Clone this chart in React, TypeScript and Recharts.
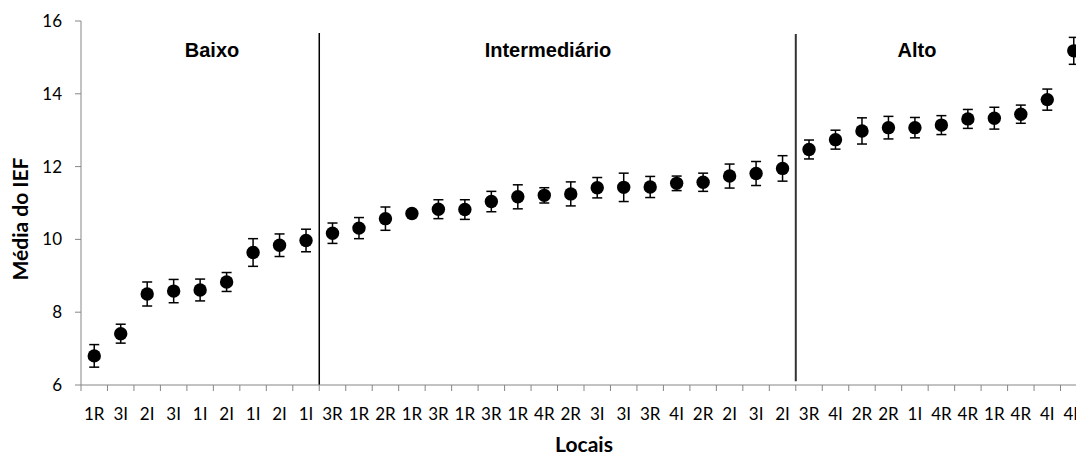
import { ComposedChart, Line, ErrorBar, XAxis, YAxis, ReferenceLine } from 'recharts';

const locais = [
  '1R', '3I', '2I', '3I', '1I', '2I', '1I', '2I', '1I',
  '3R', '1R', '2R', '1R', '3R', '1R', '3R', '1R', '4R', '2R', '3I', '3I', '3R', '4I', '2R', '2I', '3I', '2I',
  '3R', '4I', '2R', '2R', '1I', '4R', '4R', '1R', '4R', '4I', '4R',
];

const medias = [
  6.80, 7.41, 8.50, 8.58, 8.61, 8.83, 9.64, 9.84, 9.97,
  10.17, 10.31, 10.57, 10.71, 10.83, 10.82, 11.04, 11.17, 11.21, 11.25, 11.42, 11.43, 11.44, 11.54, 11.57, 11.74, 11.81, 11.95,
  12.47, 12.74, 12.98, 13.07, 13.07, 13.14, 13.31, 13.33, 13.44, 13.84, 15.18,
];

const erros = [
  0.31, 0.26, 0.33, 0.32, 0.30, 0.26, 0.38, 0.31, 0.31,
  0.28, 0.29, 0.32, 0.04, 0.26, 0.27, 0.28, 0.33, 0.21, 0.33, 0.28, 0.39, 0.29, 0.20, 0.25, 0.33, 0.33, 0.35,
  0.26, 0.26, 0.36, 0.31, 0.28, 0.26, 0.26, 0.30, 0.25, 0.29, 0.37,
];

const grupos = ['Baixo', 'Intermediário', 'Alto'];
const divisoes = [9, 27];
const yTicks = [6, 8, 10, 12, 14, 16];

const CHART_W = 1100;
const CHART_H = 457;
const MARGIN = { top: 21, right: 13, bottom: 0, left: 21 };
const Y_AXIS_W = 60;
const PLOT_W = CHART_W - MARGIN.left - MARGIN.right - Y_AXIS_W;
const BAND = PLOT_W / locais.length;

const data = locais.map((local, i) => ({ x: i + 0.5, local, media: medias[i], erro: erros[i] }));
const xTicks = Array.from({ length: locais.length + 1 }, (_, i) => i);

const Ponto = (props: any) => {
  const { cx, cy } = props;
  if (cx == null || cy == null) return null;
  return <circle cx={cx} cy={cy} r={6.7} fill="#000" />;
};

const LocalTick = (props: any) => {
  const { x, y, payload } = props;
  const label = locais[payload.value];
  if (!label) return null;
  return (
    <text x={x + BAND / 2} y={y + 27} textAnchor="middle" fill="#000" fontSize={17} fontFamily="Lato">
      {label}
    </text>
  );
};

// label positions for the three groups (placed by hand in the original)
const grupoX = [212, 548, 917];

export default function App() {
  return (
    <div style={{ position: 'absolute', left: 0, top: 0, width: 1076, height: 457, overflow: 'hidden', background: '#fff' }}>
      <ComposedChart width={CHART_W} height={CHART_H} data={data} margin={MARGIN}>
        <XAxis
          dataKey="x"
          type="number"
          domain={[0, locais.length]}
          ticks={xTicks}
          interval={0}
          height={72}
          tickSize={6}
          tickMargin={2}
          tick={<LocalTick />}
          axisLine={{ stroke: '#868686' }}
          tickLine={{ stroke: '#868686' }}
        />
        <YAxis
          type="number"
          domain={[6, 16]}
          ticks={yTicks}
          interval={0}
          width={Y_AXIS_W}
          tickSize={6}
          tickMargin={13}
          tick={{ fill: '#000', fontSize: 17, fontFamily: 'Lato' }}
          axisLine={{ stroke: '#868686' }}
          tickLine={{ stroke: '#868686' }}
        />
        <ReferenceLine segment={[{ x: divisoes[0], y: 6 }, { x: divisoes[0], y: 15.67 }]} stroke="#000" strokeWidth={1.5} />
        <ReferenceLine segment={[{ x: divisoes[1], y: 6.1 }, { x: divisoes[1], y: 15.64 }]} stroke="#333" strokeWidth={2} />
        <Line dataKey="media" stroke="none" dot={<Ponto />} activeDot={false} isAnimationActive={false}>
          <ErrorBar dataKey="erro" width={5} strokeWidth={1.5} stroke="#000" direction="y" />
        </Line>
      </ComposedChart>
      <svg width={1076} height={457} style={{ position: 'absolute', left: 0, top: 0, pointerEvents: 'none' }}>
        {grupos.map((g, i) => (
          <text key={g} x={grupoX[i]} y={57} textAnchor="middle" fontFamily="Liberation Sans" fontWeight="bold" fontSize={20} fill="#000">
            {g}
          </text>
        ))}
        <text x={28} y={219} transform="rotate(-90, 28, 219)" textAnchor="middle" fontFamily="Lato" fontWeight="bold" fontSize={21} fill="#000">
          Média do IEF
        </text>
        <text x={584} y={452} textAnchor="middle" fontFamily="Lato" fontWeight="bold" fontSize={21} fill="#000">
          Locais
        </text>
      </svg>
    </div>
  );
}
